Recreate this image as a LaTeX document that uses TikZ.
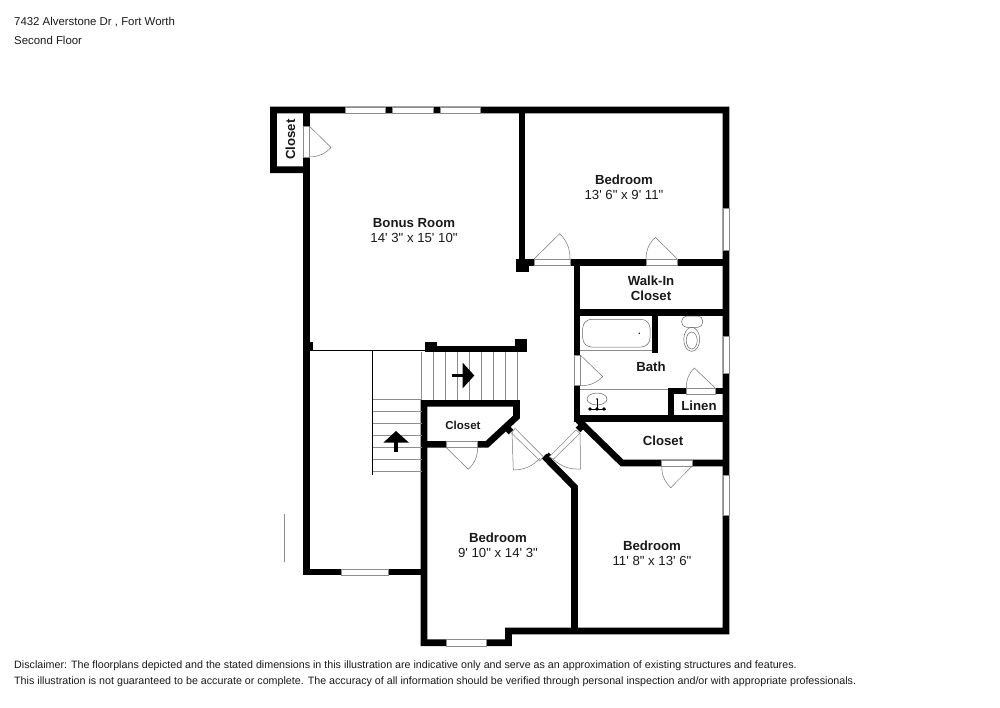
\documentclass[tikz,border=0pt]{standalone}
\usepackage{fontspec}
\newfontfamily\planfont{Liberation Sans}
\usetikzlibrary{positioning}

\begin{document}
\begin{tikzpicture}[x=1pt,y=-1pt,
wall/.style={line width=6.6pt,black,miter limit=10},
window/.style={draw=black!45,line width=0.6pt,fill=white},
leaf/.style={draw=black!55,line width=0.5pt},
tread/.style={draw=black!45,line width=0.5pt},
fixture/.style={draw=black!60,line width=0.5pt},
rail/.style={draw=black,line width=1pt},
room/.style={align=center,inner sep=0pt,text=black!90,font=\planfont\fontsize{13.2}{14.6}\selectfont},
note/.style={anchor=west,inner sep=0pt,text=black!90,font=\planfont\fontsize{10.7}{12}\selectfont},
head/.style={note,font=\planfont\fontsize{11.4}{12}\selectfont}]
\useasboundingbox (0,0) rectangle (1000,707);
% outer walls
\draw[wall] (306.3,169.7) -- (273.5,169.7) -- (273.5,110) -- (726,110) -- (726,631) -- (508.5,631) -- (508.5,642.7) -- (424,642.7) -- (424,403.3) -- (516.5,403.3) -- (516.5,417) -- (487,444.3) -- (424,444.3);
\draw[wall] (306.3,110) -- (306.3,572) -- (424,572);
% inner walls
\draw[wall] (522,110) -- (522,262.5) -- (726,262.5);
\draw[wall] (577,262.5) -- (577,418.7) -- (726,418.7);
\draw[wall] (577,312.5) -- (726,312.5);
\draw[wall] (655,312.5) -- (655,353.3);
\draw[wall] (671,418.7) -- (671,391) -- (726,391);
\draw[wall] (578,420) -- (622,463) -- (726,463);
\draw[wall] (544,456) -- (574.5,487) -- (574.5,631);
\draw[wall] (428,349) -- (527,349);
% blocks and jambs
\fill (516,259) rectangle (528.7,271.7);
\fill (425,341.7) rectangle (437.3,351.7);
\fill (515,339.3) rectangle (527.3,352);
\fill (309,341.7) rectangle (313,350);
\draw[wall] (506,427) -- (511,432);
\draw[wall] (551,455) -- (547,459);
\draw[wall] (583,425) -- (578,430);
% windows
\draw[window] (345,107) rectangle (385,113);
\draw[window] (392.7,107) rectangle (433,113);
\draw[window] (440,107) rectangle (480,113);
\draw[window] (723.5,208) rectangle (729,250);
\draw[window] (723.5,336.7) rectangle (729,373.3);
\draw[window] (723.5,475) rectangle (729,515);
\draw[window] (341,569) rectangle (388.3,575);
\draw[window] (446,639.5) rectangle (486.7,646);
% door slabs
\draw[window] (303.5,126) rectangle (309.3,157);
\draw[window] (534,259.3) rectangle (570,265.7);
\draw[window] (646,259.3) rectangle (677.3,265.7);
\draw[window] (574,355) rectangle (580.3,385.7);
\draw[window] (686.3,388) rectangle (715.3,394);
\draw[window] (446,441.3) rectangle (477.7,447.3);
\draw[window] (661.7,460) rectangle (692.3,466);
\draw[window] (515,428.3) -- (543.3,456.7) -- (540,460.7) -- (511.7,433.3) -- cycle;
\draw[window] (549.3,456.7) -- (576,430) -- (580,433.3) -- (553.3,459.3) -- cycle;
% door leaves
\draw[leaf] (309.3,126) -- (331,147.5) to[bend left=22] (309.3,157);
\draw[leaf] (534,259) -- (559.7,233.7) to[bend left=22] (570,259);
\draw[leaf] (677.3,259) -- (655.3,237.3) to[bend right=22] (646,259);
\draw[leaf] (580.3,355) -- (602.7,376.7) to[bend left=22] (580.3,385.7);
\draw[leaf] (715.3,388) -- (694.3,368) to[bend right=22] (686.3,388);
\draw[leaf] (477.7,447.3) to[bend left=22] (468.3,469.3) -- (446,447.3);
\draw[leaf] (661.7,466) to[bend right=22] (670.7,487.7) -- (692.3,466);
\draw[leaf] (512,432.7) -- (513.3,470) to[bend right=22] (540,458.3);
\draw[leaf] (580,433) -- (580.7,469) to[bend left=22] (553.3,459.3);
% stairs
\draw[rail] (309,350) -- (430,350);
\draw[rail] (372.7,350) -- (372.7,475);
\draw[tread] (373,399.3) -- (422,399.3) (373,411.7) -- (422,411.7) (373,423.7) -- (422,423.7) (373,435.7) -- (422,435.7) (373,447.7) -- (422,447.7) (373,459.7) -- (422,459.7) (373,471.7) -- (422,471.7);
\draw[tread] (421.3,352) -- (421.3,400) (433.3,352) -- (433.3,400) (445.3,352) -- (445.3,400) (457.3,352) -- (457.3,400) (469.3,352) -- (469.3,400) (481.3,352) -- (481.3,400) (493.3,352) -- (493.3,400) (505.3,352) -- (505.3,400) (517.3,352) -- (517.3,400);
\fill (462.7,362.7) -- (474.3,375.5) -- (462.7,388.3) -- cycle;
\fill (452.3,374) rectangle (463.3,377.4);
\fill (383.3,442.7) -- (396,431) -- (409,442.7) -- cycle;
\fill (394.3,442) rectangle (398,452.3);
% bath fixtures
\draw[fixture,rounded corners=9pt] (582.7,319.3) rectangle (650,347);
\fill (639.3,333.3) circle (0.8);
\draw[tread] (580,350.7) -- (652,350.7);
\draw[tread] (580,389.3) -- (668,389.3);
\draw[fixture,rounded corners=5pt] (681.7,316) rectangle (702.7,327.3);
\draw[fixture] (691.7,339.3) ellipse (8 and 12);
\draw[fixture] (691.7,340.5) ellipse (5.5 and 8.5);
\draw[fixture] (597,399) ellipse (10 and 6);
\fill (597,399) circle (0.9);
\draw[fixture,draw=black] (597,399) -- (597,409) (589,409) -- (605.5,409);
\fill (590,409) circle (1.8) (597,409) circle (1.8) (604,409) circle (1.8);
% odd line outside
\draw[tread] (284.3,514.3) -- (284.3,562.3);
% labels
\node[room,rotate=90] (closettop) at (290.5,139.5) {\bfseries Closet};
\node[room] (bonus) at (414,230.5) {\textbf{Bonus Room}\\14' 3" x 15' 10"};
\node[room] (bedone) at (624,187) {\textbf{Bedroom}\\13' 6" x 9' 11"};
\node[room] (walkin) at (651,288.5) {\bfseries Walk-In\\\bfseries Closet};
\node[room] (bath) at (651,366.5) {\bfseries Bath};
\node[room] (linen) at (699,406) {\bfseries Linen};
\node[room,font=\planfont\fontsize{11.5}{13}\selectfont] (closetstair) at (463,425) {\bfseries Closet};
\node[room] (closetright) at (663,441) {\bfseries Closet};
\node[room] (bedtwo) at (498,545.5) {\textbf{Bedroom}\\9' 10" x 14' 3"};
\node[room] (bedthree) at (652,553.5) {\textbf{Bedroom}\\11' 8" x 13' 6"};
\node[head] (address) at (14,22.5) {7432 Alverstone Dr , Fort Worth};
\node[head] (floor) at (14,40) {Second Floor};
\node[note] (claimone) at (14,665.5) {Disclaimer: The floorplans depicted and the stated dimensions in this illustration are indicative only and serve as an approximation of existing structures and features.};
\node[note] (claimtwo) at (14,681.5) {This illustration is not guaranteed to be accurate or complete. The accuracy of all information should be verified through personal inspection and/or with appropriate professionals.};
\end{tikzpicture}
\end{document}
